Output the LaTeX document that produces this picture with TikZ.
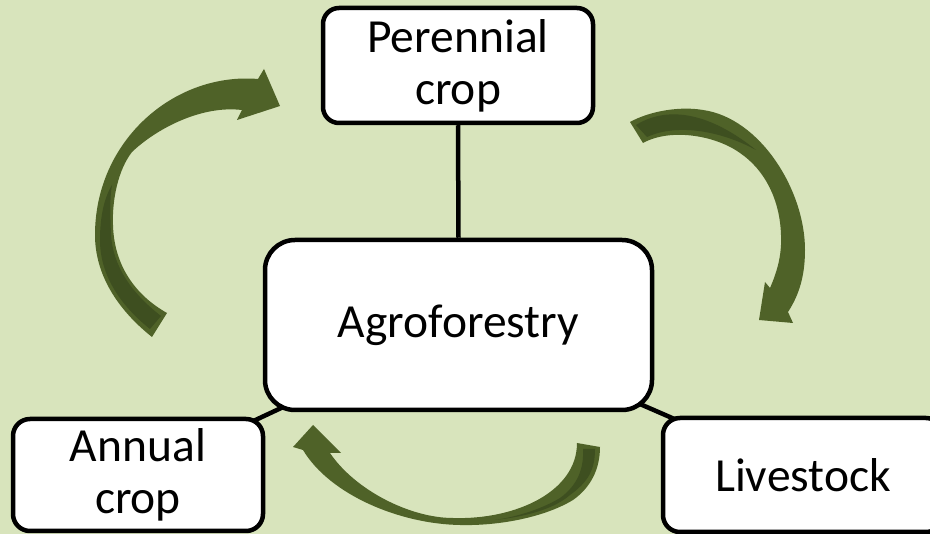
\documentclass[tikz,border=0pt]{standalone}
\usepackage{fontspec}
\setmainfont{Carlito}
\definecolor{bgc}{RGB}{216,228,188}
\definecolor{agreen}{RGB}{79,98,40}
\definecolor{adark}{RGB}{62,79,32}
\pgfdeclarelayer{bg}
\pgfdeclarelayer{lines}
\pgfsetlayers{bg,lines,main}
\begin{document}
\begin{tikzpicture}[x=1pt,y=-1pt,
  box/.style={draw=black, line width=4.5pt, fill=white, rounded corners=16pt,
    align=center, font=\fontsize{47.5}{52}\selectfont, inner sep=0pt},
  link/.style={draw=black, line width=4.5pt},
  amid/.style={fill=agreen},
  adk/.style={fill=adark}]
\useasboundingbox (0,0) rectangle (930,534);
\begin{pgfonlayer}{bg}
\fill[bgc] (0,0) rectangle (930,534);
% left arrow
\fill[amid] (152,337) .. controls (118,310) and (95,275) .. (95,235)
  .. controls (95,140) and (175,72) .. (258,79)
  -- (264,69) -- (280,106) -- (237,120) -- (242,110)
  .. controls (200,105) and (155,130) .. (132,152)
  .. controls (118,170) and (112,200) .. (113,225)
  .. controls (114,265) and (135,295) .. (167,313) -- cycle;
\fill[adk] (112,185) .. controls (103,200) and (100,220) .. (100,240)
  .. controls (100,275) and (120,305) .. (150,329)
  -- (161,316) .. controls (130,292) and (113,265) .. (111,235)
  .. controls (110,210) and (110,195) .. (112,185) -- cycle;
% right arrow
\fill[amid] (630,122) .. controls (650,111) and (680,106) .. (703,110)
  .. controls (760,118) and (805,190) .. (805,250)
  .. controls (805,280) and (797,298) .. (788,312)
  -- (793,323) -- (759,320) -- (765,282) -- (770,288)
  .. controls (777,272) and (782,255) .. (781,235)
  .. controls (780,200) and (765,170) .. (740,153)
  .. controls (715,135) and (670,128) .. (643,143) -- cycle;
\fill[adk] (636,125) .. controls (660,110) and (700,105) .. (756,150)
  .. controls (725,133) and (680,122) .. (647,137) -- cycle;
% bottom arrow
\fill[amid] (600,447) .. controls (600,470) and (590,488) .. (573,500)
  .. controls (545,517) and (500,526) .. (460,525)
  .. controls (400,524) and (330,495) .. (303,450)
  -- (293,447) -- (313,425) -- (341,453) -- (330,453)
  .. controls (355,490) and (410,518) .. (453,518)
  .. controls (515,520) and (577,492) .. (577,443) -- cycle;
\fill[adk] (583,449) .. controls (584,468) and (578,485) .. (560,498)
  .. controls (540,510) and (515,517) .. (495,520)
  .. controls (530,516) and (555,508) .. (570,495)
  .. controls (588,482) and (595,470) .. (595,449) -- cycle;
\end{pgfonlayer}
\node[box, minimum width=270pt, minimum height=115pt] (per) at (458,65.5) {Perennial\\crop};
\node[box, minimum width=387pt, minimum height=170pt, rounded corners=30pt] (agro) at (458.5,325) {Agroforestry};
\node[box, minimum width=250pt, minimum height=112pt, rounded corners=17pt] (ann) at (138,475) {Annual\\crop};
\node[box, minimum width=280pt, minimum height=114pt, rounded corners=17pt] (live) at (803,475) {Livestock};
\begin{pgfonlayer}{lines}
\draw[link] (per.south) -- (agro.north);
\draw[link] (agro.center) -- (ann.center);
\draw[link] (agro.center) -- (live.center);
\end{pgfonlayer}
\end{tikzpicture}
\end{document}
